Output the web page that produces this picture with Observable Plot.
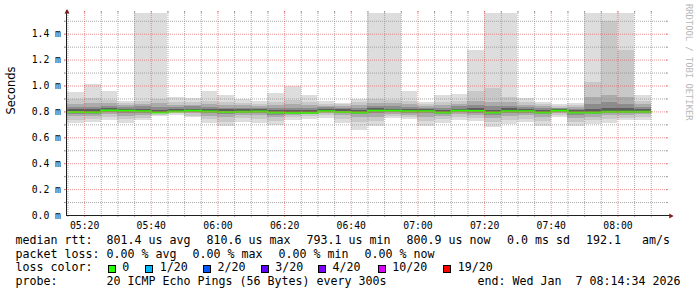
<!DOCTYPE html>
<html><head><meta charset="utf-8">
<script src="https://cdn.jsdelivr.net/npm/d3@7"></script>
<script src="https://cdn.jsdelivr.net/npm/@observablehq/plot@0.6"></script>
<style>
html,body{margin:0;padding:0;background:#fff;}
body{position:relative;width:697px;height:297px;overflow:hidden;}
#chart svg{display:block;}
.lg{position:absolute;white-space:pre;font-family:"DejaVu Sans Mono",monospace;font-size:11.63px;line-height:13.5px;color:#000;}
.bx{position:absolute;width:6px;height:6px;border:1px solid #000;}
</style></head><body>
<div id="chart"></div>
<script>
// ---- data (values in milliseconds) ----
const barStarts = ["05:15","05:20","05:25","05:30","05:35","05:40","05:45","05:50","05:55","06:00",
  "06:05","06:10","06:15","06:20","06:25","06:30","06:35","06:40","06:45","06:50",
  "06:55","07:00","07:05","07:10","07:15","07:20","07:25","07:30","07:35","07:40",
  "07:45","07:50","07:55","08:00","08:05"];
const median = [0.800,0.798,0.8106,0.809,0.805,0.796,0.803,0.808,0.803,0.800,
  0.802,0.803,0.795,0.7931,0.794,0.805,0.800,0.796,0.809,0.808,
  0.806,0.806,0.796,0.808,0.807,0.795,0.806,0.806,0.796,0.809,
  0.795,0.795,0.802,0.802,0.8009];
const p20 = [0.948,1.015,0.958,0.880,1.56,1.56,0.915,0.905,0.954,0.930,
  0.895,0.878,0.944,1.000,0.930,0.877,0.868,0.897,1.56,1.56,
  0.954,0.876,0.930,0.938,1.278,1.56,1.56,0.900,0.876,0.855,
  0.863,1.56,1.56,1.56,0.923];
const p1 = [0.712,0.720,0.737,0.710,0.732,0.765,0.776,0.755,0.712,0.686,
  0.717,0.712,0.697,0.737,0.745,0.752,0.712,0.655,0.686,0.748,
  0.745,0.686,0.707,0.732,0.725,0.680,0.699,0.716,0.686,0.757,
  0.686,0.699,0.712,0.732,0.737];
const p19 = [0.897,0.900,0.890,0.868,0.880,0.897,0.870,0.872,0.880,0.870,
  0.865,0.860,0.875,0.885,0.875,0.860,0.858,0.870,0.897,0.890,
  0.880,0.858,0.870,0.878,0.954,0.977,0.915,0.870,0.858,0.840,
  0.848,1.030,1.497,1.278,0.880];
const p2 = [0.737,0.740,0.755,0.738,0.750,0.776,0.785,0.768,0.740,0.718,
  0.748,0.742,0.728,0.758,0.762,0.770,0.742,0.715,0.725,0.765,
  0.758,0.728,0.738,0.755,0.748,0.718,0.735,0.745,0.728,0.772,
  0.720,0.732,0.742,0.752,0.758];
const p17 = [0.860,0.862,0.862,0.850,0.860,0.862,0.850,0.852,0.858,0.850,
  0.848,0.845,0.850,0.858,0.852,0.845,0.842,0.850,0.868,0.862,
  0.860,0.845,0.850,0.860,0.880,0.872,0.870,0.850,0.842,0.830,
  0.835,0.915,0.930,0.910,0.858];
const p4 = [0.765,0.765,0.777,0.768,0.772,0.785,0.792,0.785,0.765,0.755,
  0.772,0.770,0.755,0.775,0.778,0.786,0.770,0.755,0.760,0.782,
  0.776,0.760,0.765,0.780,0.772,0.752,0.762,0.770,0.760,0.788,
  0.752,0.760,0.770,0.776,0.780];
const p15 = [0.835,0.835,0.842,0.836,0.840,0.832,0.832,0.838,0.835,0.830,
  0.830,0.830,0.826,0.830,0.828,0.832,0.830,0.828,0.845,0.840,
  0.836,0.830,0.826,0.840,0.848,0.840,0.845,0.832,0.825,0.828,
  0.822,0.860,0.870,0.858,0.835];
const p6 = [0.782,0.780,0.792,0.790,0.787,0.788,0.797,0.796,0.786,0.780,
  0.786,0.787,0.776,0.780,0.780,0.792,0.785,0.778,0.788,0.792,
  0.790,0.786,0.778,0.794,0.788,0.775,0.787,0.790,0.778,0.796,
  0.774,0.778,0.786,0.788,0.788];
const p12 = [0.818,0.816,0.826,0.822,0.822,0.812,0.818,0.822,0.818,0.815,
  0.817,0.818,0.810,0.808,0.810,0.820,0.816,0.812,0.826,0.822,
  0.820,0.820,0.812,0.822,0.826,0.814,0.824,0.820,0.812,0.822,
  0.810,0.818,0.830,0.826,0.816];
const p9 = [0.794,0.792,0.804,0.803,0.799,0.790,0.797,0.802,0.797,0.794,
  0.796,0.797,0.789,0.787,0.788,0.799,0.794,0.790,0.803,0.802,
  0.800,0.800,0.790,0.802,0.801,0.789,0.800,0.800,0.790,0.803,
  0.789,0.789,0.796,0.796,0.795];
const yTicks = [0, 0.2, 0.4, 0.6, 0.8, 1.0, 1.2, 1.4];
const yMinor = [0.1, 0.3, 0.5, 0.7, 0.9, 1.1, 1.3, 1.5];
const xTickLabels = ["05:20","05:40","06:00","06:20","06:40","07:00","07:20","07:40","08:00"];
const startTime = "05:14:34", endTime = "08:14:34";
const yTitle = "Seconds";
const credit = "RRDTOOL / TOBI OETIKER";
const line1Label = "median rtt:";
const line1 = ["801.4 us avg","810.6 us max","793.1 us min","800.9 us now","0.0 ms sd","192.1   am/s"];
const line2Label = "packet loss:";
const line2 = ["0.00 % avg","0.00 % max","0.00 % min","0.00 % now"];
const line3Label = "loss color:";
const lossLabels = ["0","1/20","2/20","3/20","4/20","10/20","19/20"];
const lossColors = ["#26ff00","#00b8ff","#0059ff","#5e00ff","#7e00ff","#dd00ff","#ff0000"];
const line4Label = "probe:";
const probeText = "20 ICMP Echo Pings (56 Bytes) every 300s";
const endText = "end: Wed Jan  7 08:14:34 2026";

// ---- build ----
const day = "2026-01-07T";
const T = s => new Date(day + (s.length === 5 ? s + ":00" : s) + "Z");
const t0 = T(startTime), t1 = T(endTime);
const bars = barStarts.map(s => ({start: T(s), end: new Date(+T(s) + 300000)}));
const layers = [
  {hi: p20, lo: p1, fill: "#dddddd"},
  {hi: p19, lo: p2, fill: "#c8c8c8"},
  {hi: p17, lo: p4, fill: "#ababab"},
  {hi: p15, lo: p6, fill: "#8c8c8c"},
  {hi: p12, lo: p9, fill: "#5e5e5e"}
];
const medPts = bars.flatMap((d, i) => [{t: d.start, v: median[i]}, {t: d.end, v: median[i]}]);
const xMajor = xTickLabels.map(T);
const xAll = d3.utcMinute.every(5).range(t0, t1);
const xMinor = xAll.filter(t => !xMajor.some(m => +m === +t));

const W = 697, H = 232, ML = 66, MR = 31, MT = 13, MB = 17;
const FW = W - ML - MR, FH = H - MT - MB;
const gMinor = {stroke: "#8f8f8f", strokeOpacity: 0.75};
const gMajor = {stroke: "#de4f4f", strokeOpacity: 0.6};
const mono = "DejaVu Sans Mono";

const marks = [];
for (const L of layers) {
  marks.push(Plot.rect(bars, {x1: "start", x2: "end", y1: (d, i) => L.lo[i], y2: (d, i) => L.hi[i],
    fill: L.fill, shapeRendering: "crispEdges"}));
}
marks.push(Plot.line(medPts, {x: "t", y: "v", stroke: "#26ff00", strokeWidth: 2}));
for (const [vals, g] of [[yMinor, gMinor], [yTicks.slice(1), gMajor]]) {
  marks.push(Plot.ruleY(vals, {...g, strokeDasharray: "1,1", insetLeft: -2, insetRight: -2}));
  marks.push(Plot.ruleY(vals, {...g, insetLeft: -2, insetRight: FW}));
  marks.push(Plot.ruleY(vals, {...g, insetLeft: FW, insetRight: -2}));
}
for (const [vals, g] of [[xMinor, gMinor], [xMajor, gMajor]]) {
  marks.push(Plot.ruleX(vals, {...g, strokeDasharray: "1,1", insetTop: -2, insetBottom: -2}));
  marks.push(Plot.ruleX(vals, {...g, insetTop: FH, insetBottom: -2}));
  marks.push(Plot.ruleX(vals, {...g, insetTop: -2, insetBottom: FH}));
}
marks.push(Plot.ruleX([t0], {stroke: "#1f1f1f", insetTop: -3}));
marks.push(Plot.ruleY([0], {stroke: "#1f1f1f", insetRight: -4}));
marks.push(Plot.dot([0], {x: () => t0, y: () => 1.56, symbol: "triangle", r: 1.9, fill: "#801f1f", stroke: "none", dx: 0.5, dy: -1.6}));
marks.push(Plot.dot([0], {x: () => t1, y: () => 0, symbol: "triangle", r: 1.9, fill: "#801f1f", stroke: "none", dx: 4.2, dy: 0.5, rotate: 90}));
marks.push(Plot.text(yTicks, {y: d => d, frameAnchor: "left", dx: -5.5, textAnchor: "end",
  text: d => d.toFixed(1) + " m", fontFamily: mono, fontSize: 9.75, fill: "#000"}));
marks.push(Plot.text(xTickLabels, {x: d => T(d), frameAnchor: "bottom", dy: 10, lineAnchor: "middle",
  text: d => d, fontFamily: mono, fontSize: 9.75, fill: "#000"}));
marks.push(Plot.text([yTitle], {frameAnchor: "left", dx: -55, rotate: -90, lineAnchor: "middle",
  text: d => d, fontFamily: "DejaVu Sans", fontSize: 11.4, fill: "#000"}));
marks.push(Plot.text([credit], {frameAnchor: "top-right", dx: 22.3, dy: -9.5, rotate: 90, textAnchor: "start",
  lineAnchor: "middle", text: d => d, fontFamily: mono, fontSize: 8.8, fill: "#b8b8b8"}));

const chart = Plot.plot({
  width: W, height: H, marginLeft: ML, marginRight: MR, marginTop: MT, marginBottom: MB,
  style: {background: "#fff", overflow: "visible"},
  x: {type: "utc", domain: [t0, t1], axis: null},
  y: {domain: [0, 1.56], axis: null},
  marks
});
document.getElementById("chart").appendChild(chart);

// ---- legend (HTML, below the svg) ----
const body = document.body;
function put(text, left, top) {
  const s = document.createElement("span");
  s.className = "lg"; s.textContent = text;
  s.style.left = left + "px"; s.style.top = top + "px";
  body.appendChild(s);
}
const tops = [234.2, 247.7, 261.2, 274.7];
put(line1Label, 15.5, tops[0]);
[106.5, 206.5, 306.5, 406.5, 507, 586].forEach((x, i) => put(line1[i], x, tops[0]));
put(line2Label, 15.5, tops[1]);
[106.5, 192.5, 278.5, 364.5].forEach((x, i) => put(line2[i], x, tops[1]));
put(line3Label, 15.5, tops[2]);
[107.7, 145.2, 203, 260.7, 318, 377.7, 443.3].forEach((x, i) => {
  const b = document.createElement("div");
  b.className = "bx"; b.style.left = x + "px"; b.style.top = "264.5px";
  b.style.background = lossColors[i];
  body.appendChild(b);
  put(lossLabels[i], x + 14.5, tops[2]);
});
put(line4Label, 15.5, tops[3]);
put(probeText, 106.5, tops[3]);
put(endText, 477.5, tops[3]);
</script>
</body></html>
